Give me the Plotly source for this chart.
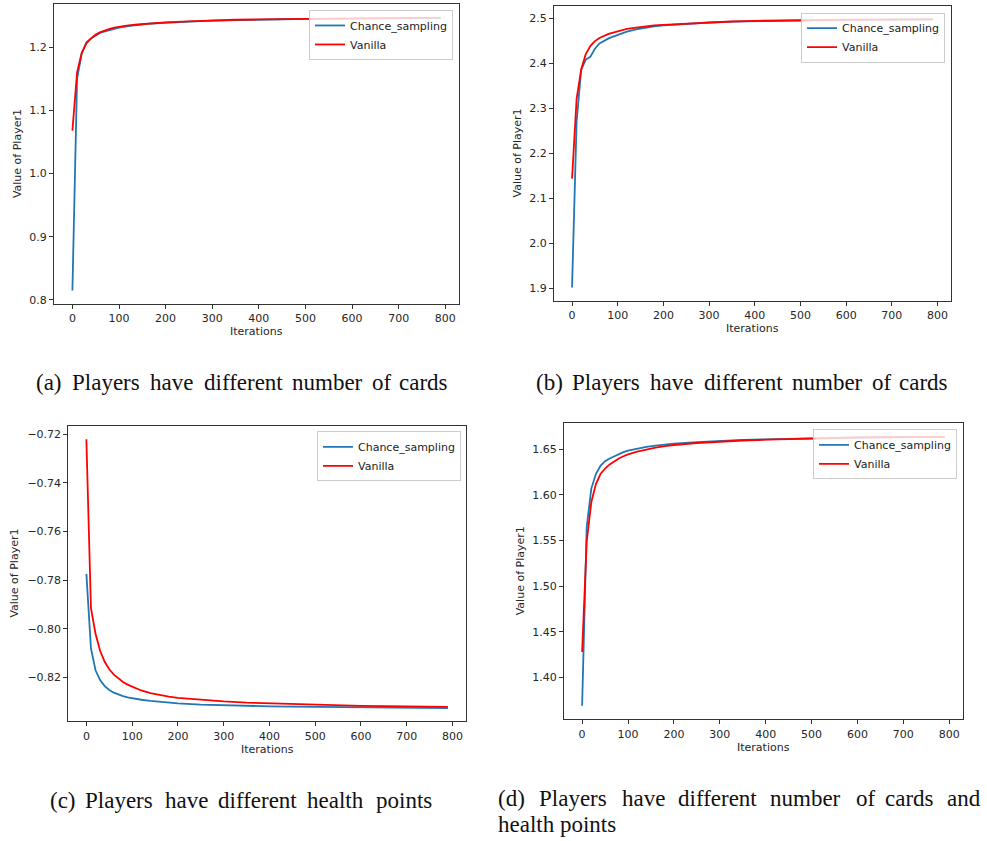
import plotly.graph_objects as go

# ---------------------------------------------------------------- data
iterations = [0, 10, 20, 30, 40, 50, 60, 70, 80, 90, 100, 120, 140, 160, 180, 200,
              250, 300, 350, 400, 450, 500, 550, 600, 650, 700, 750, 790]

# (a) different number of cards
a_chance = [0.815, 1.150, 1.190, 1.208, 1.214, 1.219, 1.223, 1.225, 1.227, 1.229, 1.231,
            1.2335, 1.2355, 1.237, 1.238, 1.239, 1.2405, 1.242, 1.243, 1.2437, 1.2443,
            1.2448, 1.2452, 1.2455, 1.2458, 1.2461, 1.2463, 1.2464]
a_vanilla = [1.068, 1.160, 1.191, 1.206, 1.214, 1.220, 1.224, 1.227, 1.229, 1.231, 1.2325,
             1.2345, 1.236, 1.2375, 1.2385, 1.2395, 1.241, 1.2425, 1.2435, 1.244, 1.2445,
             1.245, 1.2455, 1.2458, 1.246, 1.2462, 1.2464, 1.2465]

# (b) different number of cards
b_chance = [1.902, 2.270, 2.385, 2.408, 2.414, 2.432, 2.444, 2.450, 2.455, 2.459, 2.463,
            2.470, 2.475, 2.479, 2.482, 2.484, 2.4875, 2.4903, 2.4922, 2.4935, 2.4945,
            2.4952, 2.4958, 2.4963, 2.4966, 2.4969, 2.4971, 2.4972]
b_vanilla = [2.1435, 2.321, 2.386, 2.420, 2.438, 2.449, 2.456, 2.461, 2.465, 2.468, 2.471,
             2.476, 2.479, 2.482, 2.4838, 2.485, 2.488, 2.491, 2.4925, 2.494, 2.495,
             2.4955, 2.496, 2.4964, 2.4967, 2.4969, 2.4971, 2.4973]

# (c) different health points
c_chance = [-0.7774, -0.8080, -0.8170, -0.8210, -0.8235, -0.8251, -0.8262, -0.8270, -0.8276,
            -0.8281, -0.8285, -0.8291, -0.8296, -0.8300, -0.8303, -0.8306, -0.8311, -0.8314,
            -0.8316, -0.8318, -0.8319, -0.8320, -0.8321, -0.8322, -0.8323, -0.8323, -0.8324,
            -0.8325]
c_vanilla = [-0.7221, -0.7915, -0.8020, -0.8090, -0.8135, -0.8166, -0.8188, -0.8205, -0.8218,
             -0.8229, -0.8238, -0.8253, -0.8264, -0.8272, -0.8278, -0.8283, -0.8292, -0.8298,
             -0.8303, -0.8306, -0.8309, -0.8311, -0.8313, -0.8316, -0.8317, -0.8318, -0.8319,
             -0.8320]

# (d) different number of cards and health points
d_chance = [1.369, 1.565, 1.607, 1.623, 1.632, 1.637, 1.640, 1.6425, 1.645, 1.647, 1.6485,
            1.651, 1.6528, 1.6542, 1.6553, 1.6562, 1.658, 1.6593, 1.6603, 1.661, 1.6617,
            1.6622, 1.6627, 1.663, 1.6633, 1.6635, 1.6637, 1.6638]
d_vanilla = [1.428, 1.549, 1.592, 1.612, 1.623, 1.629, 1.6335, 1.637, 1.640, 1.6425, 1.6445,
             1.6475, 1.650, 1.652, 1.6535, 1.6548, 1.657, 1.6585, 1.6597, 1.6606, 1.6614,
             1.662, 1.6626, 1.663, 1.6633, 1.6635, 1.6637, 1.6638]

series_names = ["Chance_sampling", "Vanilla"]

x_ticks = [0, 100, 200, 300, 400, 500, 600, 700, 800]
x_tick_labels = ["0", "100", "200", "300", "400", "500", "600", "700", "800"]

a_y_ticks = [0.8, 0.9, 1.0, 1.1, 1.2]
a_y_labels = ["0.8", "0.9", "1.0", "1.1", "1.2"]
b_y_ticks = [1.9, 2.0, 2.1, 2.2, 2.3, 2.4, 2.5]
b_y_labels = ["1.9", "2.0", "2.1", "2.2", "2.3", "2.4", "2.5"]
c_y_ticks = [-0.82, -0.80, -0.78, -0.76, -0.74, -0.72]
c_y_labels = ["\u22120.82", "\u22120.80", "\u22120.78", "\u22120.76", "\u22120.74", "\u22120.72"]
d_y_ticks = [1.40, 1.45, 1.50, 1.55, 1.60, 1.65]
d_y_labels = ["1.40", "1.45", "1.50", "1.55", "1.60", "1.65"]

x_title = "Iterations"
y_title = "Value of Player1"

caption_a = ["(a)", "Players", "have", "different", "number", "of", "cards"]
caption_b = ["(b)", "Players", "have", "different", "number", "of", "cards"]
caption_c = ["(c)", "Players", "have", "different", "health", "points"]
caption_d1 = ["(d)", "Players", "have", "different", "number", "of", "cards", "and"]
caption_d2 = ["health points"]

# ---------------------------------------------------------------- layout helpers
W, H = 987, 841
BLUE = "#1f77b4"
RED = "#ff0000"
AXIS_FONT = dict(family="DejaVu Sans", size=11, color="#262626")
CAP_FONT = dict(family="Liberation Serif", size=23, color="#111111")


def fx(p):
    return p / W


def fy(p):
    return 1 - p / H


panels = [
    dict(chance=a_chance, vanilla=a_vanilla, box=(54, 459, 4.3, 305), ytx=17,
         yr=(0.7937, 1.268), yt=a_y_ticks, yl=a_y_labels, leg=(453, 10)),
    dict(chance=b_chance, vanilla=b_vanilla, box=(554, 951, 6, 302), ytx=517,
         yr=(1.872, 2.527), yt=b_y_ticks, yl=b_y_labels, leg=(945, 12.7)),
    dict(chance=c_chance, vanilla=c_vanilla, box=(68.3, 466, 427.3, 724), ytx=15,
         yr=(-0.838, -0.7166), yt=c_y_ticks, yl=c_y_labels, leg=(461, 433)),
    dict(chance=d_chance, vanilla=d_vanilla, box=(564, 962.7, 424.7, 722), ytx=520,
         yr=(1.354, 1.6787), yt=d_y_ticks, yl=d_y_labels, leg=(957, 431)),
]

fig = go.Figure()
layout = dict(
    width=W, height=H,
    margin=dict(l=0, r=0, t=0, b=0),
    paper_bgcolor="white", plot_bgcolor="white",
    annotations=[],
)

for i, p in enumerate(panels):
    n = "" if i == 0 else str(i + 1)
    leg = "legend" + n
    x0, x1, y0, y1 = p["box"]
    for name, vals, col in ((series_names[0], p["chance"], BLUE),
                            (series_names[1], p["vanilla"], RED)):
        fig.add_trace(go.Scatter(
            x=iterations, y=vals, mode="lines", name=name,
            line=dict(color=col, width=1.8),
            xaxis="x" + n, yaxis="y" + n, legend=leg, showlegend=True,
        ))
    common = dict(showline=True, mirror=True, linecolor="#333333", linewidth=1,
                  ticks="outside", ticklen=4, tickwidth=1, tickcolor="#333333",
                  showgrid=False, zeroline=False, tickfont=AXIS_FONT)
    layout["xaxis" + n] = dict(domain=[fx(x0), fx(x1)], range=[-39.5, 829.5],
                               tickvals=x_ticks, ticktext=x_tick_labels,
                               anchor="y" + n, **common)
    layout["yaxis" + n] = dict(domain=[fy(y1), fy(y0)], range=list(p["yr"]),
                               tickvals=p["yt"], ticktext=p["yl"],
                               anchor="x" + n, **common)
    lx, ly = p["leg"]
    layout[leg] = dict(x=fx(lx), y=fy(ly), xanchor="right", yanchor="top",
                       xref="paper", yref="paper",
                       bgcolor="rgba(255,255,255,0.8)", bordercolor="#cccccc",
                       borderwidth=1, font=dict(family="DejaVu Sans", size=11, color="#222222"),
                       itemwidth=30, tracegroupgap=0)
    # axis titles
    layout["annotations"].append(dict(
        text=x_title, x=fx((x0 + x1) / 2), y=fy(y1 + 28), xref="paper", yref="paper",
        xanchor="center", yanchor="middle", showarrow=False, font=AXIS_FONT))
    layout["annotations"].append(dict(
        text=y_title, x=fx(p["ytx"]), y=fy((y0 + y1) / 2), xref="paper", yref="paper",
        xanchor="center", yanchor="middle", textangle=-90, showarrow=False, font=AXIS_FONT))


def add_caption(words, lefts, ymid):
    for w, left in zip(words, lefts):
        layout["annotations"].append(dict(
            text=w, x=fx(left), y=fy(ymid), xref="paper", yref="paper",
            xanchor="left", yanchor="middle", showarrow=False, font=CAP_FONT,
            borderpad=0))


add_caption(caption_a, [35, 71, 149, 203, 291, 371, 398], 384)
add_caption(caption_b, [535, 571, 649, 703, 791, 871, 898], 384)
add_caption(caption_c, [49, 84, 164, 217, 306, 375], 803)
add_caption(caption_d1, [497, 538, 621, 677, 769, 855, 884, 946], 801.5)
add_caption(caption_d2, [497], 827.5)

fig.update_layout(**layout)
fig.write_html("out.html")
